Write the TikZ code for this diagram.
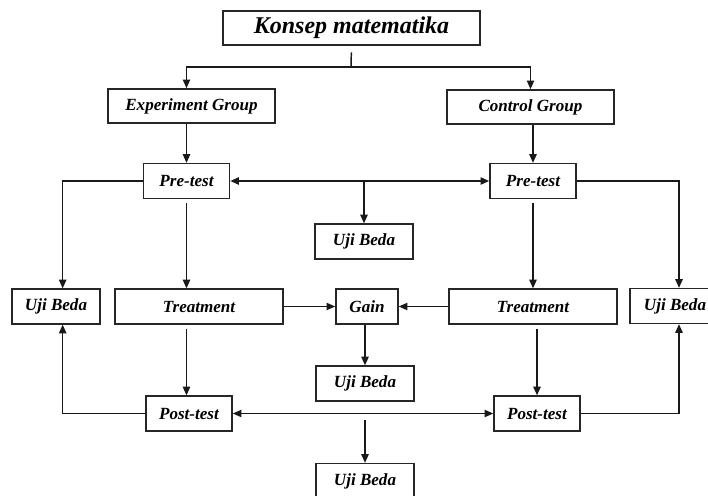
\documentclass[tikz,border=0pt]{standalone}
\usepackage{fontspec}
\setmainfont{Liberation Serif}
\usetikzlibrary{arrows.meta,positioning}

\begin{document}
\begin{tikzpicture}[
  x=0.75pt, y=-0.75pt,
  >={Triangle[length=6.5pt,width=5.5pt]},
  every node/.style={font=\bfseries\itshape\fontsize{12.8}{15}\selectfont},
  box/.style={draw=black!85, line width=1.2pt, inner sep=0pt,
              minimum height=26pt, align=center},
  link/.style={draw=black!90, line width=1.1pt}
]
  \useasboundingbox (0,0) rectangle (708,496);
  \clip (0,0) rectangle (708,496);

  % top and groups
  \node[box, minimum width=192.75pt, minimum height=25.5pt,
        font=\bfseries\itshape\fontsize{18}{21}\selectfont] (konsep) at (351.5,28) {Konsep matematika};
  \node[box, minimum width=125.25pt, minimum height=25.5pt] (expgrp) at (191.5,106) {Experiment Group};
  \node[box, minimum width=125.25pt, minimum height=25.5pt] (ctlgrp) at (530.5,107) {Control Group};

  % pre-test row
  \node[box, minimum width=64.5pt] (preE) at (186.5,181) {Pre-test};
  \node[box, minimum width=64.5pt] (preC) at (533,181) {Pre-test};
  \node[box, minimum width=73.5pt] (ujiA) at (364,241.5) {Uji Beda};

  % treatment row
  \node[box, minimum width=66pt] (ujiL) at (56,306.5) {Uji Beda};
  \node[box, minimum width=126pt] (treatE) at (199,306.5) {Treatment};
  \node[box, minimum width=46.5pt] (gain) at (367,306.5) {Gain};
  \node[box, minimum width=126pt] (treatC) at (533,306.5) {Treatment};
  \node[box, minimum width=67.5pt] (ujiR) at (675,306) {Uji Beda};
  \node[box, minimum width=73.5pt] (ujiB) at (365,383.5) {Uji Beda};

  % post-test row
  \node[box, minimum width=64.5pt] (postE) at (189,413.5) {Post-test};
  \node[box, minimum width=64.5pt] (postC) at (537,413.5) {Post-test};
  \node[box, minimum width=73.5pt] (ujiC) at (365,481) {Uji Beda};

  \coordinate (split) at (351,67);
  \draw[link, shorten <=5pt] (konsep.south) -- (split);
  \draw[link, ->] (split) -| (expgrp.north -| preE);
  \draw[link, ->] (split) -| (ctlgrp.north);

  \draw[link, ->] (expgrp.south -| preE) -- (preE.north);
  \draw[link, ->] (ctlgrp.south -| preC) -- (preC.north);
  \draw[link, <->] (preE) -- (preC);
  \draw[link, ->] (preE.east -| ujiA) -- (ujiA.north);
  \draw[link, ->] (preE.west) -| ([xshift=5pt]ujiL.north);
  \draw[link, ->] (preC.east) -| ([xshift=3pt]ujiR.north);
  \draw[link, ->, shorten <=3pt] (preE.south) -- (preE.south |- treatE.north);
  \draw[link, ->, shorten <=3pt] (preC.south) -- (preC.south |- treatC.north);

  \draw[link, ->] (treatE) -- (gain);
  \draw[link, ->] (treatC) -- (gain);
  \draw[link, ->] (gain.south -| ujiB) -- (ujiB.north);

  \draw[link, ->, shorten <=3pt] (treatE.south -| preE) -- (preE |- postE.north);
  \draw[link, ->, shorten <=3pt] (treatC.south -| postC) -- (postC.north);
  \draw[link, <->] (postE) -- (postC);
  \draw[link, ->, shorten <=5pt] (postE.east -| ujiC) -- (ujiC.north);
  \draw[link, ->] (postE.west) -| ([xshift=5pt]ujiL.south);
  \draw[link, ->] (postC.east) -| ([xshift=3pt]ujiR.south);
\end{tikzpicture}
\end{document}
